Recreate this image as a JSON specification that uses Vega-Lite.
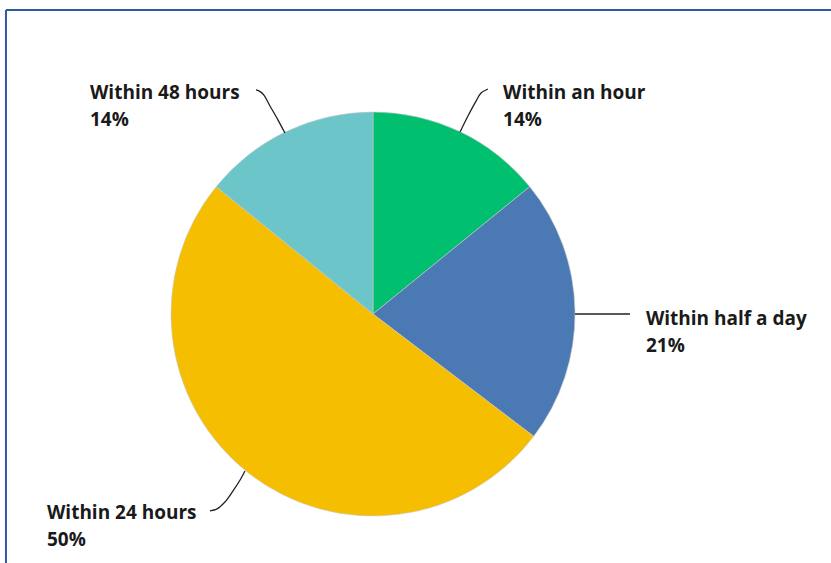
{
  "$schema": "https://vega.github.io/schema/vega-lite/v6.json",
  "width": 831,
  "height": 563,
  "autosize": {"type": "none"},
  "padding": 0,
  "background": "white",
  "view": {"stroke": null},
  "datasets": {
    "slices": [
      {"category": "Within an hour", "value": 14, "rank": 1},
      {"category": "Within half a day", "value": 21, "rank": 2},
      {"category": "Within 24 hours", "value": 50, "rank": 3},
      {"category": "Within 48 hours", "value": 14, "rank": 4}
    ],
    "labels": [
      {"category": "Within an hour", "text": ["Within an hour", "14%"], "lx": 64.4, "ly": 106.4},
      {"category": "Within half a day", "text": ["Within half a day", "21%"], "lx": 135.1, "ly": -5.4},
      {"category": "Within 24 hours", "text": ["Within 24 hours", "50%"], "lx": -161.4, "ly": -101.5},
      {"category": "Within 48 hours", "text": ["Within 48 hours", "14%"], "lx": -140.1, "ly": 106.4}
    ],
    "leaders": [
      {"category": "Within an hour", "seq": 1, "lx": 43.1, "ly": 90.1},
      {"category": "Within an hour", "seq": 2, "lx": 47.0, "ly": 98.0},
      {"category": "Within an hour", "seq": 3, "lx": 51.0, "ly": 105.4},
      {"category": "Within an hour", "seq": 4, "lx": 53.5, "ly": 109.4},
      {"category": "Within an hour", "seq": 5, "lx": 56.9, "ly": 111.4},
      {"category": "Within half a day", "seq": 1, "lx": 100.0, "ly": 0.0},
      {"category": "Within half a day", "seq": 2, "lx": 127.2, "ly": 0.0},
      {"category": "Within 24 hours", "seq": 1, "lx": -63.4, "ly": -77.7},
      {"category": "Within 24 hours", "seq": 2, "lx": -65.8, "ly": -82.2},
      {"category": "Within 24 hours", "seq": 3, "lx": -69.3, "ly": -87.6},
      {"category": "Within 24 hours", "seq": 4, "lx": -73.3, "ly": -93.1},
      {"category": "Within 24 hours", "seq": 5, "lx": -77.2, "ly": -96.5},
      {"category": "Within 24 hours", "seq": 6, "lx": -80.7, "ly": -97.5},
      {"category": "Within 48 hours", "seq": 1, "lx": -57.9, "ly": 110.9},
      {"category": "Within 48 hours", "seq": 2, "lx": -55.9, "ly": 110.1},
      {"category": "Within 48 hours", "seq": 3, "lx": -54.0, "ly": 108.4},
      {"category": "Within 48 hours", "seq": 4, "lx": -51.0, "ly": 103.0},
      {"category": "Within 48 hours", "seq": 5, "lx": -47.0, "ly": 96.0},
      {"category": "Within 48 hours", "seq": 6, "lx": -43.6, "ly": 89.6}
    ]
  },
  "layer": [
    {
      "data": {"name": "slices"},
      "mark": {"type": "arc", "outerRadius": 202, "stroke": "#c8c8c8", "strokeWidth": 0.6},
      "encoding": {
        "x": {"datum": 0, "type": "quantitative", "scale": {"domain": [-184.65, 226.73], "nice": false, "zero": false}, "axis": null},
        "y": {"datum": 0, "type": "quantitative", "scale": {"domain": [-123.27, 155.45], "nice": false, "zero": false}, "axis": null},
        "theta": {"field": "value", "type": "quantitative", "stack": true},
        "order": {"field": "rank", "type": "quantitative"},
        "color": {
          "field": "category",
          "type": "nominal",
          "scale": {
            "domain": ["Within an hour", "Within half a day", "Within 24 hours", "Within 48 hours"],
            "range": ["#00BF6F", "#4A79B4", "#F5BE00", "#6CC5C9"]
          },
          "legend": null
        }
      }
    },
    {
      "data": {"name": "leaders"},
      "mark": {"type": "line", "color": "#222222", "strokeWidth": 1.3, "interpolate": "catmull-rom"},
      "encoding": {
        "x": {"field": "lx", "type": "quantitative", "scale": {"domain": [-184.65, 226.73], "nice": false, "zero": false}, "axis": null},
        "y": {"field": "ly", "type": "quantitative", "scale": {"domain": [-123.27, 155.45], "nice": false, "zero": false}, "axis": null},
        "detail": {"field": "category", "type": "nominal"},
        "order": {"field": "seq", "type": "quantitative"}
      }
    },
    {
      "data": {"name": "labels"},
      "mark": {"type": "text", "align": "left", "baseline": "alphabetic", "font": "Open Sans", "fontWeight": "bold", "fontSize": 19, "lineHeight": 27, "color": "#1a1a1a"},
      "encoding": {
        "x": {"field": "lx", "type": "quantitative", "scale": {"domain": [-184.65, 226.73], "nice": false, "zero": false}, "axis": null},
        "y": {"field": "ly", "type": "quantitative", "scale": {"domain": [-123.27, 155.45], "nice": false, "zero": false}, "axis": null},
        "text": {"field": "text"}
      }
    },
    {
      "data": {"values": [{}]},
      "mark": {"type": "rule", "color": "#2F5A9C", "strokeWidth": 2},
      "encoding": {
        "x": {"datum": -181.7, "type": "quantitative", "scale": {"domain": [-184.65, 226.73], "nice": false, "zero": false}, "axis": null},
        "y": {"datum": 150.5, "type": "quantitative", "scale": {"domain": [-123.27, 155.45], "nice": false, "zero": false}, "axis": null},
        "y2": {"datum": -123.27}
      }
    },
    {
      "data": {"values": [{}]},
      "mark": {"type": "rule", "color": "#2F5A9C", "strokeWidth": 2},
      "encoding": {
        "x": {"datum": -181.7, "type": "quantitative", "scale": {"domain": [-184.65, 226.73], "nice": false, "zero": false}, "axis": null},
        "x2": {"datum": 226.73},
        "y": {"datum": 150.5, "type": "quantitative", "scale": {"domain": [-123.27, 155.45], "nice": false, "zero": false}, "axis": null}
      }
    }
  ]
}
